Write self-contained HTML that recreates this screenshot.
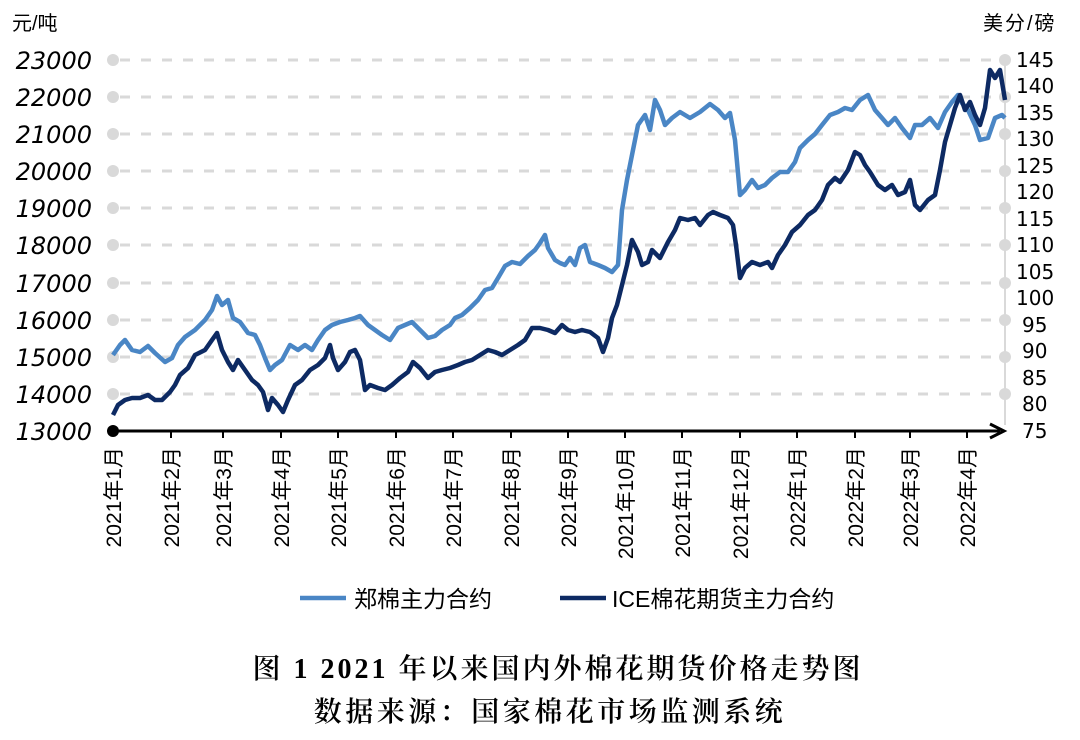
<!DOCTYPE html>
<html><head><meta charset="utf-8"><style>
body{margin:0;background:#fff;width:1080px;height:735px;overflow:hidden}
</style></head><body>
<svg width="1080" height="735" xmlns="http://www.w3.org/2000/svg" font-family="Liberation Sans, Noto Sans CJK SC, sans-serif">
<text x="12" y="30" font-size="20" fill="#000">元/吨</text>
<text x="983" y="30" font-size="20" fill="#000" letter-spacing="2">美分/磅</text>
<g stroke="#d9d9d9" stroke-width="3" stroke-dasharray="10 11">
<line x1="120" y1="60" x2="1000" y2="60"/><line x1="120" y1="97" x2="1000" y2="97"/><line x1="120" y1="134" x2="1000" y2="134"/><line x1="120" y1="171" x2="1000" y2="171"/><line x1="120" y1="208" x2="1000" y2="208"/><line x1="120" y1="245" x2="1000" y2="245"/><line x1="120" y1="283" x2="1000" y2="283"/><line x1="120" y1="320" x2="1000" y2="320"/><line x1="120" y1="357" x2="1000" y2="357"/><line x1="120" y1="394" x2="1000" y2="394"/>
</g>
<g fill="#d9d9d9">
<circle cx="113" cy="60" r="6"/><circle cx="113" cy="97" r="6"/><circle cx="113" cy="134" r="6"/><circle cx="113" cy="171" r="6"/><circle cx="113" cy="208" r="6"/><circle cx="113" cy="245" r="6"/><circle cx="113" cy="283" r="6"/><circle cx="113" cy="320" r="6"/><circle cx="113" cy="357" r="6"/><circle cx="113" cy="394" r="6"/>
<circle cx="1005" cy="60" r="6"/><circle cx="1005" cy="97" r="6"/><circle cx="1005" cy="134" r="6"/><circle cx="1005" cy="171" r="6"/><circle cx="1005" cy="208" r="6"/><circle cx="1005" cy="245" r="6"/><circle cx="1005" cy="283" r="6"/><circle cx="1005" cy="320" r="6"/><circle cx="1005" cy="357" r="6"/><circle cx="1005" cy="394" r="6"/>
</g>
<line x1="1005" y1="60" x2="1005" y2="425" stroke="#d9d9d9" stroke-width="2"/>
<g font-size="24" font-style="italic" text-anchor="end" fill="#000" font-family="DejaVu Sans, sans-serif">
<text x="92" y="69">23000</text><text x="92" y="106">22000</text><text x="92" y="143">21000</text><text x="92" y="180">20000</text><text x="92" y="217">19000</text><text x="92" y="254">18000</text><text x="92" y="292">17000</text><text x="92" y="329">16000</text><text x="92" y="366">15000</text><text x="92" y="403">14000</text><text x="92" y="440">13000</text>
</g>
<g font-size="20" fill="#000" font-family="DejaVu Sans, sans-serif">
<text x="1016" y="67">145</text><text x="1016" y="93">140</text><text x="1016" y="120">135</text><text x="1016" y="146">130</text><text x="1016" y="173">125</text><text x="1016" y="199">120</text><text x="1016" y="226">115</text><text x="1016" y="252">110</text><text x="1016" y="279">105</text><text x="1016" y="305">100</text><text x="1022" y="332">95</text><text x="1022" y="358">90</text><text x="1022" y="385">85</text><text x="1022" y="411">80</text><text x="1022" y="438">75</text>
</g>
<polyline fill="none" stroke="#4a86c5" stroke-width="4.5" stroke-linejoin="round" points="113,355 120,345 125,340 132,350 140,352 148,346 155,353 165,362 172,358 178,345 185,337 195,330 205,320 212,310 217,296 222,305 228,300 233,318 240,322 248,333 255,335 260,345 265,358 270,370 275,365 282,360 290,345 298,350 305,345 312,350 318,340 325,330 332,325 340,322 348,320 355,318 360,316 368,325 375,330 382,335 390,340 398,328 405,325 412,322 420,330 428,338 435,336 442,330 450,325 455,318 462,315 470,308 478,300 485,290 492,288 498,278 505,266 512,262 520,264 528,256 535,250 540,243 545,235 548,248 555,260 560,263 565,265 570,258 575,265 580,248 585,245 590,262 598,265 605,268 612,272 618,265 622,210 627,180 632,155 638,125 645,115 650,130 655,100 660,110 665,125 672,118 680,112 690,118 700,112 710,104 718,110 725,118 730,113 735,140 740,195 745,190 752,180 758,188 765,185 772,178 780,172 788,172 795,162 800,148 808,140 815,134 822,125 830,115 838,112 845,108 852,110 860,100 868,95 875,110 882,118 888,125 895,118 902,128 910,138 915,125 922,125 930,118 938,128 945,112 952,102 958,95 962,103 968,110 975,125 980,140 988,138 995,118 1002,115 1005,118"/>
<polyline fill="none" stroke="#0d2a63" stroke-width="4.5" stroke-linejoin="round" points="113,415 118,405 125,400 132,398 140,398 148,395 155,400 162,400 170,392 175,385 180,375 188,368 195,355 205,350 212,340 217,333 222,350 228,362 233,370 238,360 245,370 252,380 258,385 263,392 268,410 272,398 278,405 283,412 288,400 295,385 302,380 310,370 318,365 325,358 330,345 333,358 338,370 345,362 350,352 355,350 360,360 365,390 370,385 378,388 385,390 392,385 400,378 408,372 413,362 420,368 428,378 435,372 442,370 450,368 458,365 465,362 472,360 480,355 488,350 495,352 502,355 510,350 518,345 525,340 532,328 540,328 548,330 555,333 562,325 568,330 575,332 582,330 590,332 598,338 603,352 608,338 612,318 617,305 622,285 627,265 632,240 638,252 642,265 648,262 652,250 660,258 668,242 675,230 680,218 688,220 695,218 700,225 708,215 713,212 720,215 728,218 733,225 736,245 740,278 745,268 752,262 760,265 768,262 772,268 778,255 785,245 792,232 800,225 808,215 815,210 822,200 828,185 835,178 840,182 848,170 855,152 860,155 865,165 870,172 878,185 885,190 892,185 898,195 905,192 910,180 915,205 920,210 928,200 935,195 940,170 945,142 950,125 955,108 960,95 965,110 970,102 975,115 980,125 985,108 990,70 995,78 1000,70 1005,100"/>
<line x1="113" y1="431" x2="1000" y2="431" stroke="#000" stroke-width="3"/>
<polyline points="990,424 1004,431 990,438" fill="none" stroke="#000" stroke-width="3"/>
<circle cx="113" cy="431" r="6" fill="#000"/>
<g stroke="#000" stroke-width="2">
<line x1="171" y1="431" x2="171" y2="438"/><line x1="223" y1="431" x2="223" y2="438"/><line x1="281" y1="431" x2="281" y2="438"/><line x1="338" y1="431" x2="338" y2="438"/><line x1="396" y1="431" x2="396" y2="438"/><line x1="453" y1="431" x2="453" y2="438"/><line x1="511" y1="431" x2="511" y2="438"/><line x1="568" y1="431" x2="568" y2="438"/><line x1="625" y1="431" x2="625" y2="438"/><line x1="682" y1="431" x2="682" y2="438"/><line x1="740" y1="431" x2="740" y2="438"/><line x1="797" y1="431" x2="797" y2="438"/><line x1="855" y1="431" x2="855" y2="438"/><line x1="910" y1="431" x2="910" y2="438"/><line x1="967" y1="431" x2="967" y2="438"/>
</g>
<g font-size="21" fill="#000" text-anchor="end">
<text transform="translate(121,447) rotate(-90)">2021年1月</text>
<text transform="translate(179,447) rotate(-90)">2021年2月</text>
<text transform="translate(231,447) rotate(-90)">2021年3月</text>
<text transform="translate(289,447) rotate(-90)">2021年4月</text>
<text transform="translate(346,447) rotate(-90)">2021年5月</text>
<text transform="translate(404,447) rotate(-90)">2021年6月</text>
<text transform="translate(461,447) rotate(-90)">2021年7月</text>
<text transform="translate(519,447) rotate(-90)">2021年8月</text>
<text transform="translate(576,447) rotate(-90)">2021年9月</text>
<text transform="translate(633,447) rotate(-90)">2021年10月</text>
<text transform="translate(690,447) rotate(-90)">2021年11月</text>
<text transform="translate(748,447) rotate(-90)">2021年12月</text>
<text transform="translate(805,447) rotate(-90)">2022年1月</text>
<text transform="translate(863,447) rotate(-90)">2022年2月</text>
<text transform="translate(918,447) rotate(-90)">2022年3月</text>
<text transform="translate(975,447) rotate(-90)">2022年4月</text>
</g>
<line x1="300" y1="598" x2="346" y2="598" stroke="#4a86c5" stroke-width="4.5"/>
<text x="354" y="607" font-size="23" fill="#000">郑棉主力合约</text>
<line x1="560" y1="598" x2="606" y2="598" stroke="#0d2a63" stroke-width="4.5"/>
<text x="612" y="607" font-size="23" fill="#000">ICE棉花期货主力合约</text>
<g font-family="Liberation Serif, Noto Serif CJK SC, serif" font-size="28" font-weight="600" fill="#000" text-anchor="middle">
<text x="558" y="678" letter-spacing="3">图 1 2021 年以来国内外棉花期货价格走势图</text>
<text x="550" y="721" letter-spacing="3.5">数据来源：国家棉花市场监测系统</text>
</g>
</svg>
</body></html>
